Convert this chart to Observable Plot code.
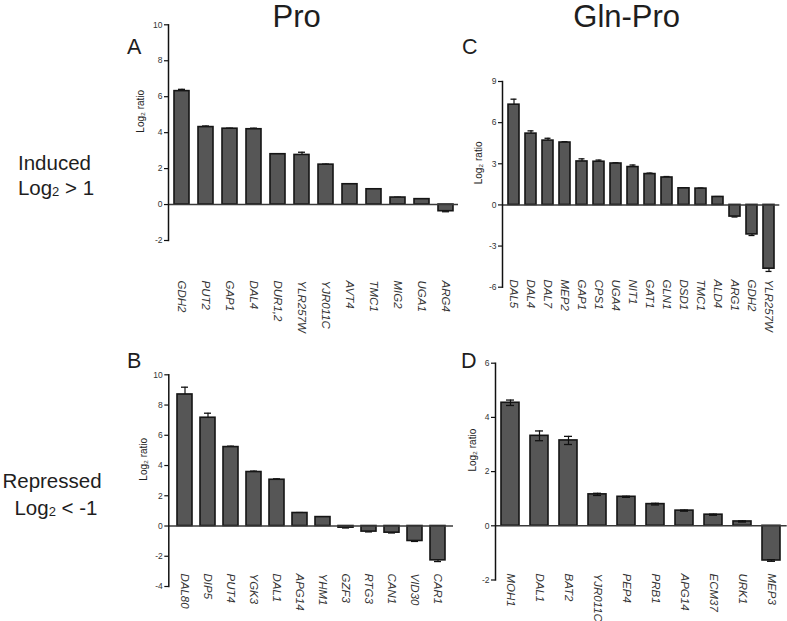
<!DOCTYPE html>
<html><head><meta charset="utf-8">
<script src="https://cdn.jsdelivr.net/npm/d3@7"></script>
<script src="https://cdn.jsdelivr.net/npm/@observablehq/plot@0.6"></script>
<style>
body{margin:0;background:#fff;font-family:"Liberation Sans",Arial,sans-serif;}
#wrap{position:relative;width:787px;height:621px;overflow:hidden;background:#fff;}
.pnl{position:absolute;}
#overlay{position:absolute;left:0;top:0;pointer-events:none;}
</style></head><body><div id="wrap"></div>
<script>
// Panel A: Pro, induced
const genesA = ["GDH2","PUT2","GAP1","DAL4","DUR1,2","YLR257W","YJR011C","AVT4","TMC1","MIG2","UGA1","ARG4"];
const valuesA = [6.31,4.31,4.22,4.19,2.80,2.76,2.22,1.13,0.85,0.39,0.30,-0.37];
const errA = [0.10,0.06,0.03,0.06,0.03,0.15,0.03,0.03,0.02,0.02,0.02,0.03];
const ticksA = [-2,0,2,4,6,8,10];

// Panel C: Gln-Pro, induced
const genesC = ["DAL5","DAL4","DAL7","MEP2","GAP1","CPS1","UGA4","NIT1","GAT1","GLN1","DSD1","TMC1","ALD4","ARG1","GDH2","YLR257W"];
const valuesC = [7.31,5.20,4.69,4.55,3.17,3.15,3.02,2.76,2.25,2.00,1.21,1.19,0.58,-0.85,-2.15,-4.65];
const errC = [0.40,0.20,0.17,0.06,0.19,0.12,0.05,0.15,0.07,0.07,0.03,0.04,0.03,0.03,0.08,0.20];
const ticksC = [-6,-3,0,3,6,9];

// Panel B: Pro, repressed
const genesB = ["DAL80","DIP5","PUT4","YGK3","DAL1","APG14","YHM1","GZF3","RTG3","CAN1","VID30","CAR1"];
const valuesB = [8.70,7.16,5.22,3.57,3.06,0.86,0.59,-0.11,-0.37,-0.44,-0.99,-2.27];
const errB = [0.48,0.30,0.06,0.06,0.06,0.03,0.03,0.02,0.02,0.02,0.03,0.08];
const ticksB = [-4,-2,0,2,4,6,8,10];

// Panel D: Gln-Pro, repressed
const genesD = ["MOH1","DAL1","BAT2","YJR011C","PEP4","PRB1","APG14","ECM37","URK1","MEP3"];
const valuesD = [4.54,3.32,3.15,1.16,1.07,0.80,0.56,0.41,0.16,-1.28];
const errD = [0.10,0.18,0.15,0.04,0.02,0.03,0.02,0.02,0.02,0.03];
const ticksD = [-2,0,2,4,6];

const FONT = "'Liberation Sans', Arial, Helvetica, sans-serif";

function panel(c) {
  const data = c.genes.map((g, i) => {
    const v = c.values[i], e = c.errs[i];
    return {gene: g, v, e,
      lo: c.both ? v - e : v,
      hi: c.both ? v + e : (v >= 0 ? v + e : v - e)};
  });
  const caps = c.both
    ? data.flatMap(d => [{gene: d.gene, y: d.v + d.e}, {gene: d.gene, y: d.v - d.e}])
    : data.map(d => ({gene: d.gene, y: d.hi}));
  const errMarks = [
    Plot.ruleX(data, {x: "gene", y1: "lo", y2: "hi", stroke: "#111", strokeWidth: 1.2}),
    Plot.tickY(caps, {x: "gene", y: "y", stroke: "#111", strokeWidth: 1.3, inset: c.capInset})
  ];
  const svg = Plot.plot({
    width: c.width, height: c.height,
    marginTop: c.mt, marginBottom: c.mb, marginLeft: c.ml, marginRight: c.mr,
    style: {fontFamily: FONT, background: "transparent", overflow: "visible"},
    x: {domain: c.genes, paddingInner: c.pi, paddingOuter: c.po, axis: null, label: null},
    y: {domain: c.yDomain, axis: null, label: null},
    marks: [
      ...(c.both ? [] : errMarks),
      Plot.barY(data, {x: "gene", y: "v", fill: "#565656", stroke: "#151515", strokeWidth: 1.6}),
      ...(c.both ? errMarks : []),
      Plot.ruleY([0], {stroke: "#3a3a3a", strokeWidth: 1.5}),
      Plot.frame({anchor: "left", stroke: "#111", strokeWidth: 1.5}),
      Plot.axisY({ticks: c.yTicks, tickSize: 4, tickPadding: 2, fontSize: 8.5, label: null,
        fill: "#333", stroke: "#111", strokeWidth: 1.2, tickFormat: d => String(d)}),
      Plot.axisX({tickRotate: 90, tickSize: 0, tickPadding: c.tickPad, fontSize: 11.5, label: null,
        fontStyle: "italic", fill: "#333"}),
      Plot.text(["Log₂ ratio"], {frameAnchor: "left", dx: c.ylabDx, rotate: -90, fontSize: 10, fill: "#222"})
    ]
  });
  const div = document.createElement("div");
  div.className = "pnl";
  div.style.left = c.left + "px";
  div.style.top = c.top + "px";
  div.appendChild(svg);
  document.getElementById("wrap").appendChild(div);
}

panel({genes: genesA, values: valuesA, errs: errA, both: false, yDomain: [-2, 10], yTicks: ticksA,
  left: 120, top: 10, width: 345, height: 330, mt: 14.3, mb: 100, ml: 48, mr: 7,
  pi: 0.38, po: 0.165, capInset: 4, tickPad: 40, ylabDx: -28});
panel({genes: genesC, values: valuesC, errs: errC, both: false, yDomain: [-6, 9], yTicks: ticksC,
  left: 460, top: 10, width: 327, height: 330, mt: 71, mb: 53.3, ml: 42, mr: 7.7,
  pi: 0.37, po: 0.19, capInset: 2.5, tickPad: -7.7, ylabDx: -24});
panel({genes: genesB, values: valuesB, errs: errB, both: false, yDomain: [-4, 10], yTicks: ticksB,
  left: 120, top: 340, width: 345, height: 281, mt: 34.3, mb: 35, ml: 48.3, mr: 12,
  pi: 0.364, po: 0.21, capInset: 4, tickPad: -13, ylabDx: -25});
panel({genes: genesD, values: valuesD, errs: errD, both: true, yDomain: [-2, 6], yTicks: ticksD,
  left: 460, top: 340, width: 327, height: 281, mt: 22.7, mb: 41.5, ml: 35, mr: 0.3,
  pi: 0.37, po: 0.206, capInset: 5, tickPad: -6.5, ylabDx: -23});

// Overlay text: column titles, panel letters, row labels
const ns = "http://www.w3.org/2000/svg";
const ov = document.createElementNS(ns, "svg");
ov.setAttribute("id", "overlay");
ov.setAttribute("width", 787);
ov.setAttribute("height", 621);
ov.style.fontFamily = FONT;
function txt(x, y, s, size, anchor) {
  const t = document.createElementNS(ns, "text");
  t.setAttribute("x", x); t.setAttribute("y", y);
  t.setAttribute("font-size", size);
  t.setAttribute("text-anchor", anchor || "start");
  t.setAttribute("fill", "#1e1e1e");
  t.textContent = s;
  ov.appendChild(t);
  return t;
}
function logLabel(x, y, rest) {
  const t = txt(x, y, "", 20.5, "middle");
  const a = document.createElementNS(ns, "tspan"); a.textContent = "Log";
  const b = document.createElementNS(ns, "tspan"); b.textContent = "2"; b.setAttribute("font-size", 13); b.setAttribute("dy", 1);
  const c = document.createElementNS(ns, "tspan"); c.textContent = rest; c.setAttribute("dy", -1);
  t.appendChild(a); t.appendChild(b); t.appendChild(c);
}
txt(296.7, 26.7, "Pro", 31, "middle");
txt(626.7, 26.7, "Gln-Pro", 31, "middle");
txt(127, 54.3, "A", 21.5);
txt(462, 54.3, "C", 21.5);
txt(127, 367.7, "B", 21.5);
txt(461, 367.7, "D", 21.5);
txt(54.5, 170, "Induced", 20.5, "middle");
logLabel(56, 195, " > 1");
txt(52, 488, "Repressed", 20.5, "middle");
logLabel(56, 515, " < -1");
document.getElementById("wrap").appendChild(ov);
</script>
</body></html>
